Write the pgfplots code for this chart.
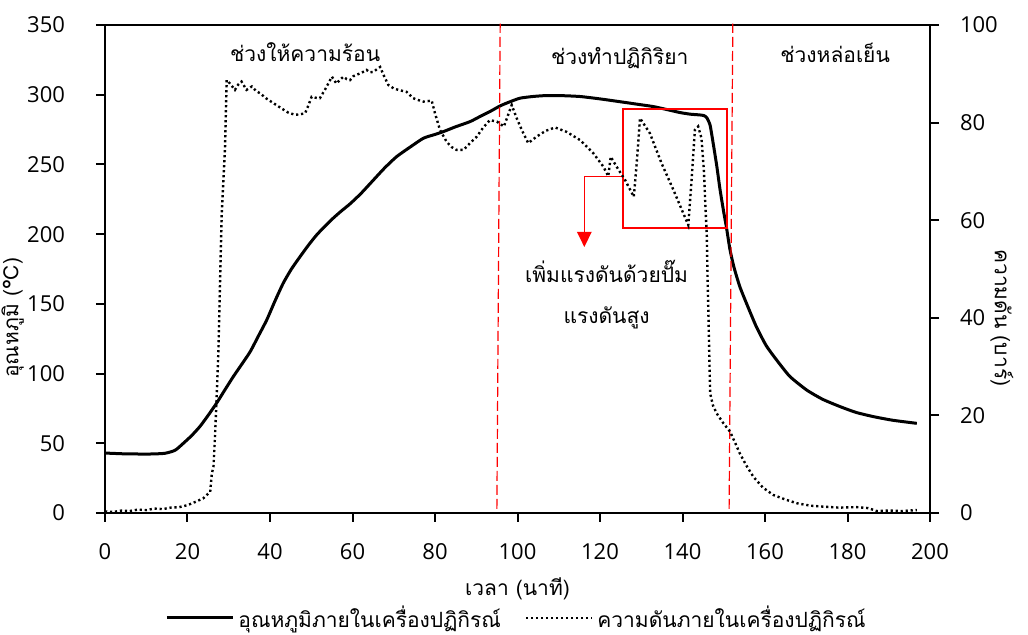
\documentclass[border=0pt]{standalone}
\usepackage{fontspec}
\setmainfont[Script=Thai]{Loma}
\newfontfamily\numfont{Open Sans}
\usepackage{pgfplots}
\pgfplotsset{compat=1.18}
\pgfplotstableread{
x y
0 43
5 42.4
10.9 42.3
14.5 42.8
17 45
19 50
21 55.5
23 62
25 70
27.1 79
29 88
31.1 97.8
33 106
35.2 115.7
37.2 127
39.2 138.4
41.2 152
43.2 164.8
45.2 175
47.3 183.9
49.3 192
51.3 199.4
53.3 205.6
55.3 211.4
57.3 216.6
59.4 221.7
62 229
65.1 238.9
67.8 247.5
70.7 255.6
74 262.5
77.2 268.8
80 271.5
82 273.5
85 277
88.5 280.7
91 284.5
93.3 287.9
95.8 292
97.8 294.5
100.6 297.5
104 298.8
107.1 299.4
111 299.3
115.2 298.7
120 297
124.8 295
129 293.2
132.9 291.5
136 289.5
139.4 287.2
142 286
144.2 285.5
145.2 285
145.9 283.5
146.7 278
147.5 264
148.3 249
149.1 232
149.9 217.4
150.7 204
151.5 189
152.5 176
153.9 162.3
155.7 149
157.9 133.6
160.3 120
162.8 109.8
166 98
170.1 88.2
174 81.5
178.2 76.3
182 72.2
186.3 69.1
191 66.5
196.8 64.3
}\temptable
\pgfplotstableread{
x y
0 0.3
2 0.2
4 0.5
6 0.4
8 0.7
10 0.6
12 0.9
14 0.8
16 1.1
18 1.2
20 1.6
22 2.3
23.8 3
24.8 3.8
25.5 4.3
25.9 8.1
26.3 9.5
26.7 16.3
27.1 24.5
27.5 33.4
27.9 47.7
28.3 61.4
28.7 68.2
29.1 75
29.5 88.7
30.3 88
31.5 86.7
32.3 87.8
33.1 88.4
34.3 86.7
35.6 87.4
36.6 86.5
37.6 86
39 85
40.8 84
42.8 82.9
44.5 82
46.1 81.6
47.3 81.7
48.5 81.9
49.3 83.5
50.1 85.3
51 85.1
52.1 85
53.5 87
55 89.4
56.1 88
57 88.8
57.8 89.4
58.6 88.9
59.4 88.7
60.2 89.5
61 89.8
62.2 90.2
63.4 90.8
64.2 90.3
65.1 90.4
66 91
66.7 91.4
67.5 89.8
68.7 87.7
70 87
71.1 86.7
73.1 86.3
74.7 85
76 84.6
77.2 84.3
79.2 84.5
80 81.9
81.2 78.5
82.8 76.1
84 75
85.2 74.4
86.9 74.4
88.5 75.8
90.1 77.1
91.7 79
93.3 80.5
95 80.2
96.7 79.2
98.6 83.6
99.8 80.9
101.2 78.2
102.6 75.8
104.6 77.1
106.8 78.3
109.1 79
111.9 78.1
115.2 76.4
118.4 73.7
120.8 71
122 69
122.6 73
124 71
126.1 68.2
128.2 64.8
128.9 71.7
129.7 80.9
132.1 77.8
134.9 71.7
137.8 66.2
141.4 59
142.2 68.2
143 78.5
143.8 79.2
144.6 76.8
145.2 70
145.5 64
145.9 56.6
146.1 47
146.3 40
146.5 32
146.7 24.5
147.4 22
148.3 20.4
149.9 18.4
151.5 16.7
152.7 14.5
153.9 12.2
155.5 9.7
157.2 7.4
159.5 5.2
162 3.7
164.8 2.8
167.7 2
171 1.5
174.1 1.3
178 1.1
182.2 1.2
185 1
187.1 0.4
190 0.5
193 0.4
196.8 0.6
}\prestable
\begin{document}
\begin{tikzpicture}
\pgfplotsset{
  myaxis/.style={
    at={(0,0)}, anchor=south west,
    scale only axis, width=412.5pt, height=244pt,
    xmin=0, xmax=200,
    font=\fontsize{10.5}{12}\selectfont,
    /pgf/number format/assume math mode=true,
    tick align=outside, major tick length=4.5pt,
    axis line style={line width=1pt},
    every tick/.style={black, line width=1pt},
    clip=false,
  }
}
\begin{axis}[myaxis,
  ymin=0, ymax=350,
  xtick={0,20,...,200}, ytick={0,50,...,350},
  xtick pos=bottom, ytick pos=left,
  xticklabel style={font=\numfont\fontsize{11}{12}\selectfont, yshift=-7pt},
  yticklabel style={font=\numfont\fontsize{11}{12}\selectfont, anchor=east, xshift=-12pt},
  xlabel={เวลา (นาที)},
  ylabel={อุณหภูมิ (°C)},
  xlabel style={at={(axis description cs:0.5,-0.155)}, anchor=center},
  ylabel style={at={(axis description cs:-0.112,0.40)}, anchor=center},
]
\addplot[black, line width=1.5pt, line join=round, smooth, tension=0.35] table[x=x,y=y] {\temptable};
\draw[red, dash pattern=on 5pt off 2pt, line width=0.6pt] (axis cs:95.0,3) -- (axis cs:95.8,351);
\draw[red, dash pattern=on 5pt off 2pt, line width=0.6pt] (axis cs:151.3,3) -- (axis cs:152.2,351);
\draw[red, line width=1pt] (axis cs:125.6,289.8) rectangle (axis cs:150.8,204.4);
\draw[red, line width=0.6pt] (axis cs:125.6,241.3) -- (axis cs:116.2,241.3) -- (axis cs:116.2,200);
\fill[red] (axis cs:114.4,201.6) -- (axis cs:118.0,201.6) -- (axis cs:116.2,190.8) -- cycle;
\node at (axis cs:48.5,330.7) {ช่วงให้ความร้อน};
\node at (axis cs:124.8,326) {ช่วงทำปฏิกิริยา};
\node at (axis cs:177,330) {ช่วงหล่อเย็น};
\node at (axis cs:121.6,173) {เพิ่มแรงดันด้วยปั๊ม};
\node at (axis cs:121.6,140) {แรงดันสูง};
\end{axis}
\begin{axis}[myaxis,
  ymin=0, ymax=100,
  ytick={0,20,...,100},
  axis x line=none, axis y line*=right,
  yticklabel style={font=\numfont\fontsize{11}{12}\selectfont, anchor=west, xshift=7pt},
  ylabel={ความดัน (บาร์)},
  ylabel style={at={(axis description cs:1.087,0.40)}, anchor=center, rotate=180},
  legend columns=2,
  legend style={draw=none, fill=none, at={(axis description cs:0.5,-0.215)}, anchor=center,
    /tikz/every even column/.append style={column sep=10pt}},
  legend image code/.code={\draw[#1] (0pt,0pt) -- (33pt,0pt);},
]
\addlegendimage{black, line width=1.5pt}
\addlegendentry{อุณหภูมิภายในเครื่องปฏิกิรณ์}
\addplot[black, line width=1.2pt, dash pattern=on 1.1pt off 1.4pt] table[x=x,y=y] {\prestable};
\addlegendentry{ความดันภายในเครื่องปฏิกิรณ์}
\end{axis}
\pgfresetboundingbox
\path[use as bounding box] (-52.5pt,-61pt) rectangle (461.5pt,256.5pt);
\end{tikzpicture}
\end{document}
